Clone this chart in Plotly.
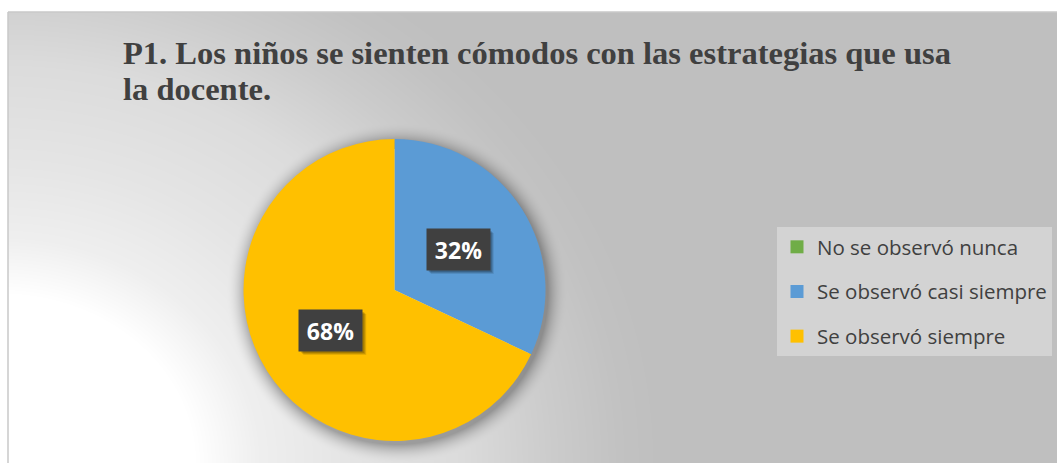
import base64, struct, zlib
import numpy as np
import plotly.graph_objects as go

# ---- data ----
categories = ["No se observó nunca", "Se observó casi siempre", "Se observó siempre"]
shares = [0, 32, 68]
colors = ["#70AD47", "#5B9BD5", "#FFC000"]
title_lines = ["P1. Los niños se sienten cómodos con las estrategias que usa", "la docente."]

W, H = 1057, 463
FX0, FY0 = 8, 12  # chart frame top-left (px)

# pie placement (px)
PCX, PCY, PR = 394.5, 290.0, 151.0
dom_x = [(PCX - PR) / W, (PCX + PR) / W]
dom_y = [(H - (PCY + PR)) / H, (H - (PCY - PR)) / H]


# ---- background gradient image (decoration only) ----
def make_bg():
    yy, xx = np.mgrid[0:H, 0:W].astype(float)
    base = 191.0
    e = np.hypot(xx / 1.15, H - yy)
    knots_e = [0, 170, 225, 300, 400, 480, 540, 580, 2000]
    knots_f = [1, 1, 0.75, 0.6, 0.45, 0.2, 0.05, 0, 0]
    f = np.interp(e, knots_e, knots_f)
    b = base + (255 - base) * f
    # soft shadow around the pie
    dp = np.hypot(xx - (PCX + 2), yy - (PCY + 3)) - PR
    sh = np.clip(1 - dp / 20.0, 0, 1) ** 2 * 0.30
    sh[dp < -6] = 0
    b = b * (1 - sh)
    b[:FY0, :] = 255
    b[:, :FX0] = 255
    return np.clip(b, 0, 255).astype(np.uint8)


def png_uri(a):
    h, w = a.shape
    raw = b"".join(b"\x00" + a[i].tobytes() for i in range(h))

    def chunk(tag, data):
        c = struct.pack(">I", len(data)) + tag + data
        return c + struct.pack(">I", zlib.crc32(tag + data) & 0xFFFFFFFF)

    png = b"\x89PNG\r\n\x1a\n" + chunk(b"IHDR", struct.pack(">IIBBBBB", w, h, 8, 0, 0, 0, 0))
    png += chunk(b"IDAT", zlib.compress(raw, 9)) + chunk(b"IEND", b"")
    return "data:image/png;base64," + base64.b64encode(png).decode()


fig = go.Figure()

fig.add_trace(go.Pie(
    labels=categories, values=shares, sort=False, direction="clockwise", rotation=0,
    marker=dict(colors=colors, line=dict(width=0)),
    textinfo="none", hoverinfo="label+percent", showlegend=False,
    domain=dict(x=dom_x, y=dom_y),
))

# legend entries (one group each so the gap can be set)
for cat, col in zip(categories, colors):
    fig.add_trace(go.Scatter(
        x=[None], y=[None], mode="markers", name=cat, legendgroup=cat,
        marker=dict(symbol="square", size=13, color=col), showlegend=True,
    ))

# percentage labels with dark boxes
BW, BH = 63, 41
total = sum(shares)
cum = 0.0
pcx_p = (dom_x[0] + dom_x[1]) / 2
pcy_p = (dom_y[0] + dom_y[1]) / 2
for v in shares:
    if v > 0:
        mid = (cum + v / 2) / total * 2 * np.pi
        rr = 0.50 * PR
        ax = pcx_p + rr * np.sin(mid) / W
        ay = pcy_p + rr * np.cos(mid) / H
        pct = f"{round(v / total * 100)}%"
        # box shadow
        for k, op in ((4, 0.10), (3, 0.14), (2, 0.16)):
            fig.add_shape(type="rect", xref="paper", yref="paper", layer="above",
                          x0=ax + (-BW / 2 + k) / W, x1=ax + (BW / 2 + k) / W,
                          y0=ay - (BH / 2 + k) / H, y1=ay + (BH / 2 - k) / H,
                          fillcolor=f"rgba(0,0,0,{op})", line=dict(width=0))
        fig.add_annotation(x=ax, y=ay, xref="paper", yref="paper", text=f"<b>{pct}</b>",
                           xanchor="center", yanchor="middle",
                           showarrow=False, font=dict(family="Open Sans", size=23, color="white"),
                           bgcolor="#404040", width=BW - 8, height=BH - 8, borderpad=4)
    cum += v

# title (two lines placed separately)
for line, yc in zip(title_lines, (52.5, 89.0)):
    fig.add_annotation(x=121 / W, y=1 - yc / H, xref="paper", yref="paper", xanchor="left",
                       yanchor="middle", showarrow=False, text=f"<b>{line}</b>",
                       font=dict(family="Liberation Serif", size=32.5, color="#404040"))

fig.add_layout_image(dict(source=png_uri(make_bg()), xref="paper", yref="paper", x=0, y=1,
                          sizex=1, sizey=1, sizing="stretch", xanchor="left", yanchor="top",
                          layer="below"))

# chart frame border
fig.add_shape(type="line", xref="paper", yref="paper", x0=FX0 / W, x1=1, y0=1 - FY0 / H, y1=1 - FY0 / H,
              line=dict(color="#C8C8C8", width=1.5))
fig.add_shape(type="line", xref="paper", yref="paper", x0=FX0 / W, x1=FX0 / W, y0=0, y1=1 - FY0 / H,
              line=dict(color="#C8C8C8", width=1.5))

fig.update_layout(
    width=W, height=H, autosize=False,
    margin=dict(l=0, r=0, t=0, b=0),
    paper_bgcolor="rgba(0,0,0,0)", plot_bgcolor="rgba(0,0,0,0)",
    xaxis=dict(visible=False), yaxis=dict(visible=False),
    legend=dict(x=777 / W, y=(H - 227) / H, xanchor="left", yanchor="top",
                bgcolor="#D3D3D3", font=dict(family="Open Sans", size=20.5, color="#404040"),
                tracegroupgap=15, itemclick=False, itemdoubleclick=False),
    showlegend=True,
)

fig.write_html("out.html", config={"displayModeBar": False},
               post_script="document.body.style.margin='0';")
